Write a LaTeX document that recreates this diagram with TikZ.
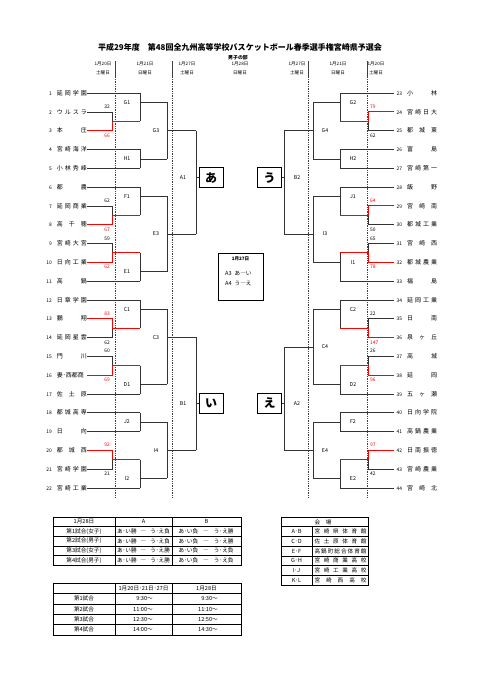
\documentclass[tikz,border=0pt]{standalone}
\usepackage{fontspec}
\setmainfont{Noto Sans CJK JP}
\newlength\pxu
\setlength\pxu{0.5mm}
% row position of the bracket (1 = first team)
\newcommand{\ry}[1]{93+(#1-1)*18.8}
% team entries: number and spread name
\newcommand{\lteam}[2]{\makebox[8\pxu][r]{\fontsize{7}{8}\selectfont #1}\hspace{5\pxu}\makebox[30\pxu][s]{#2}\hspace{2\pxu}}
\newcommand{\rteam}[2]{\hspace{1\pxu}\makebox[7\pxu][r]{\fontsize{7}{8}\selectfont #1}\hspace{5\pxu}\makebox[30\pxu][s]{#2}}
% bracket: x, top, bottom, out, next x, label x, name
\newcommand{\brk}[7]{%
  \draw[bline] (#1,{\ry{#2}}) -- (#1,{\ry{#3}});
  \draw[bline] (#1,{\ry{#4}}) -- (#5,{\ry{#4}});
  \node[mlabel] (m#7) at (#6,{\ry{#4}}) {#7};}
% first round pairs: loser, winner
\newcommand{\lpair}[2]{%
  \draw[bline] (lt#1.east) -- (112,{\ry{#1}}) -- (112,{\ry{(#1+#2)/2}});
  \draw[wline] (lt#2.east) -- (112,{\ry{#2}}) -- (112,{\ry{(#1+#2)/2}}) -- (140,{\ry{(#1+#2)/2}});}
\newcommand{\rpair}[2]{%
  \draw[bline] (rt#1.west) -- (368,{\ry{#1}}) -- (368,{\ry{(#1+#2)/2}});
  \draw[wline] (rt#2.west) -- (368,{\ry{#2}}) -- (368,{\ry{(#1+#2)/2}}) -- (340,{\ry{(#1+#2)/2}});}

\tikzset{
  bline/.style={draw=black!80, line width=0.7pt},
  wline/.style={draw=red, line width=1.1pt},
  team/.style={inner sep=0pt, font=\fontsize{8.5}{9}\selectfont},
  mlabel/.style={inner sep=0pt, font=\fontsize{7.5}{8}\selectfont},
  score/.style={inner sep=0pt, font=\fontsize{7}{8}\selectfont},
  hdr/.style={inner sep=0pt, font=\fontsize{6.5}{7}\selectfont},
  kbox/.style={draw, line width=1.2pt, fill=white, minimum width=24\pxu, minimum height=20\pxu,
    inner sep=0pt, font=\fontsize{17}{17}\bfseries\selectfont},
  tcell/.style={inner sep=0pt, font=\fontsize{8}{9}\selectfont},
  tthin/.style={draw=black, line width=0.5pt},
  tthick/.style={draw=black, line width=1.1pt}
}

\begin{document}
\begin{tikzpicture}[x=0.5mm, y=-0.5mm]
  \useasboundingbox (0,0) rectangle (481,680);
  \fill[white] (0,0) rectangle (481,680);

  % Titel
  \node[font=\fontsize{11.4}{12}\bfseries\selectfont] (title) at (240,47)
    {平成29年度　第48回全九州高等学校バスケットボール春季選手権宮崎県予選会};
  \node[font=\fontsize{7}{8}\bfseries\selectfont] (subtitle) at (238,57.5) {男子の部};

  % Kopfzeile mit Datum und Wochentag
  \foreach \x/\d/\w [count=\i] in {103/1月20日/土曜日, 145/1月21日/日曜日, 187/1月27日/土曜日,
      240/1月28日/日曜日, 297/1月27日/土曜日, 338/1月21日/日曜日, 376/1月20日/土曜日} {
    \node[hdr] (hd\i) at (\x,64) {\d};
    \node[hdr] (hw\i) at (\x,73) {\w};
  }
  \foreach \x in {115,172,308,367} {
    \draw[black!75, line width=0.5pt] (\x,61) -- (\x,77);
    \draw[black!75, line width=0.5pt, dotted] (\x,77) -- (\x,498);
  }

  % Mannschaften links
  \foreach \k/\tn in {1/延 岡 学 園, 2/ウ ル ス ラ, 3/本 庄, 4/宮 崎 海 洋, 5/小 林 秀 峰,
      6/都 農, 7/延 岡 商 業, 8/高 千 穂, 9/宮 崎 大 宮, 10/日 向 工 業, 11/高 鍋,
      12/日 章 学 園, 13/鵬 翔, 14/延 岡 星 雲, 15/門 川, 16/妻･西都商, 17/佐 土 原,
      18/都 城 高 専, 19/日 向, 20/都 城 西, 21/宮 崎 学 園, 22/宮 崎 工 業}
    \node[team, anchor=east] (lt\k) at (87,{\ry{\k}}) {\lteam{\k}{\tn}};

  % Mannschaften rechts
  \foreach \k/\tn [count=\i] in {23/小 林, 24/宮 崎 日 大, 25/都 城 東, 26/富 島, 27/宮 崎 第 一,
      28/飯 野, 29/宮 崎 南, 30/都 城 工 業, 31/宮 崎 西, 32/都 城 農 業, 33/福 島,
      34/延 岡 工 業, 35/日 南, 36/泉 ヶ 丘, 37/高 城, 38/延 岡, 39/五 ヶ 瀬,
      40/日 向 学 院, 41/高 鍋 農 業, 42/日 南 振 徳, 43/宮 崎 農 業, 44/宮 崎 北}
    \node[team, anchor=west] (rt\i) at (394,{\ry{\i}}) {\rteam{\k}{\tn}};

  % direkte Linien in die zweite Runde
  \foreach \i in {1,4,5,6,11,12,17,18,19,22} {
    \draw[bline] (lt\i.east) -- (140,{\ry{\i}});
    \draw[bline] (rt\i.west) -- (340,{\ry{\i}});
  }

  % Klammern links
  \brk{140}{1}{2.5}{1.5}{167}{127}{G1}
  \brk{140}{4}{5}{4.5}{167}{127}{H1}
  \brk{140}{6}{7.5}{6.5}{167}{127}{F1}
  \brk{140}{9.5}{11}{10.5}{167}{127}{E1}
  \brk{140}{12}{13.5}{12.5}{167}{127}{C1}
  \brk{140}{15.5}{17}{16.5}{167}{127}{D1}
  \brk{140}{18}{19}{18.5}{167}{127}{J2}
  \brk{140}{20.5}{22}{21.5}{167}{127}{I2}
  \brk{167}{1.5}{4.5}{3}{196}{156}{G3}
  \brk{167}{6.5}{10.5}{8.5}{196}{156}{E3}
  \brk{167}{12.5}{16.5}{14}{196}{156}{C3}
  \brk{167}{18.5}{21.5}{20}{196}{156}{I4}
  \brk{196}{3}{8.5}{5.5}{199}{183}{A1}
  \brk{196}{14}{20}{17.5}{199}{183}{B1}

  % Klammern rechts
  \brk{340}{1}{2.5}{1.5}{313}{353}{G2}
  \brk{340}{4}{5}{4.5}{313}{353}{H2}
  \brk{340}{6}{7.5}{6.5}{313}{353}{J1}
  \brk{340}{9.5}{11}{10}{313}{353}{I1}
  \brk{340}{12}{13.5}{12.5}{313}{353}{C2}
  \brk{340}{15.5}{17}{16.5}{313}{353}{D2}
  \brk{340}{18}{19}{18.5}{313}{353}{F2}
  \brk{340}{20.5}{22}{21.5}{313}{353}{E2}
  \brk{313}{1.5}{4.5}{3}{284}{325}{G4}
  \brk{313}{6.5}{10}{8.5}{284}{325}{I3}
  \brk{313}{12.5}{16.5}{14.5}{284}{325}{C4}
  \brk{313}{18.5}{21.5}{20}{284}{325}{E4}
  \brk{284}{3}{8.5}{5.5}{281}{297}{B2}
  \brk{284}{14.5}{20}{17.5}{281}{297}{A2}

  % erste Runde (Sieger rot)
  \lpair{2}{3} \lpair{7}{8} \lpair{9}{10} \lpair{14}{13} \lpair{15}{16} \lpair{21}{20}
  \rpair{3}{2} \rpair{8}{7} \rpair{9}{10} \rpair{13}{14} \rpair{15}{16} \rpair{21}{20}

  % Ergebnisse
  \foreach \r/\d/\v/\c in {2/-5/32/black, 3/5/66/red, 7/-5/62/black, 8/5/67/red,
      9/-5/59/black, 10/5/62/red, 13/-5/83/red, 14/5/62/black, 15/-5/60/black,
      16/5/69/red, 20/-5/92/red, 21/5/21/black}
    \node[score, text=\c, anchor=east] (ls\r) at (110,{\ry{\r}+\d}) {\v};
  \foreach \r/\d/\v/\c in {2/-5/79/red, 3/5/62/black, 7/-5/64/red, 8/5/50/black,
      9/-5/65/black, 10/5/78/red, 13/-5/22/black, 14/5/147/red, 15/-5/26/black,
      16/5/96/red, 20/-5/97/red, 21/5/42/black}
    \node[score, text=\c, anchor=west] (rs\r) at (370,{\ry{\r}+\d}) {\v};

  % Blöcke
  \node[kbox] (ka) at (211,{\ry{5.5}}) {あ};
  \node[kbox] (ki) at (211,{\ry{17.5}}) {い};
  \node[kbox] (ku) at (269.5,{\ry{5.5}}) {う};
  \node[kbox] (ke) at (269.5,{\ry{17.5}}) {え};

  % Halbfinale am 27.
  \node[draw, line width=0.7pt, minimum width=45\pxu, minimum height=47\pxu, inner sep=0pt] (day27) at (240.5,276.5) {};
  \node[hdr, font=\fontsize{6.5}{7}\bfseries\selectfont] (day27t) at (240.5,258.5) {1月27日};
  \node[tcell, anchor=west] (semi1) at (225,273) {A3\hspace{3\pxu}あ―い};
  \node[tcell, anchor=west] (semi2) at (225,283) {A4\hspace{3\pxu}う―え};

  % Tabelle 28. Januar
  \foreach \r in {2,...,4} \draw[tthin] (53,{517+9.6*\r}) -- (241,{517+9.6*\r});
  \draw[tthin] (172,517) -- (172,565);
  \draw[tthick] (53,526.6) -- (241,526.6);
  \draw[tthick] (115,517) -- (115,565);
  \draw[tthick] (53,517) rectangle (241,565);
  \node[tcell] (ta0) at (84,521.8) {1月28日};
  \node[tcell] (tb0) at (143.5,521.8) {A};
  \node[tcell] (tc0) at (206.5,521.8) {B};
  \foreach \lbl/\ca/\cb [count=\r] in {第1試合(女子)/あ･い勝 ― う･え負/あ･い負 ― う･え勝,
      第2試合(男子)/あ･い勝 ― う･え負/あ･い負 ― う･え勝,
      第3試合(女子)/あ･い勝 ― う･え勝/あ･い負 ― う･え負,
      第4試合(男子)/あ･い勝 ― う･え勝/あ･い負 ― う･え負} {
    \node[tcell] (ta\r) at (84,{521.8+9.6*\r}) {\lbl};
    \node[tcell] (tb\r) at (143.5,{521.8+9.6*\r}) {\makebox[53\pxu][s]{\ca}};
    \node[tcell] (tc\r) at (206,{521.8+9.6*\r}) {\makebox[55\pxu][s]{\cb}};
  }

  % Tabelle Spielorte
  \foreach \r in {2,...,6} \draw[tthin] (281,{517+9.71*\r}) -- (368,{517+9.71*\r});
  \draw[tthick] (281,526.7) -- (368,526.7);
  \draw[tthick] (312,526.7) -- (312,585);
  \draw[tthick] (281,517) rectangle (368,585);
  \node[tcell] (va0) at (323,521.9) {\makebox[17\pxu][s]{会 場}};
  \foreach \lbl/\hall [count=\r] in {A･B/宮 崎 県 体 育 館, C･D/佐 土 原 体 育 館,
      E･F/高 鍋 町 総 合 体 育 館, G･H/宮 崎 商 業 高 校, I･J/宮 崎 工 業 高 校,
      K･L/宮 崎 西 高 校} {
    \node[tcell] (va\r) at (296.5,{521.9+9.71*\r}) {\lbl};
    \node[tcell] (vb\r) at (340.5,{521.9+9.71*\r}) {\makebox[52\pxu][s]{\hall}};
  }

  % Tabelle Anwurfzeiten
  \foreach \r in {2,...,4} \draw[tthin] (53,{583+10.4*\r}) -- (241,{583+10.4*\r});
  \draw[tthin] (53,593.4) -- (241,593.4);
  \draw[tthin] (172,583) -- (172,635);
  \draw[tthick] (115,583) -- (115,635);
  \draw[tthick] (53,583) rectangle (241,635);
  \node[tcell] (zb0) at (143.5,588.2) {1月20日･21日･27日};
  \node[tcell] (zc0) at (206.5,588.2) {1月28日};
  \foreach \lbl/\ta/\tb [count=\r] in {第1試合/9:30～/9:30～, 第2試合/11:00～/11:10～,
      第3試合/12:30～/12:50～, 第4試合/14:00～/14:30～} {
    \node[tcell] (za\r) at (84,{588.2+10.4*\r}) {\lbl};
    \node[tcell, anchor=east] (zb\r) at (153,{588.2+10.4*\r}) {\ta};
    \node[tcell, anchor=east] (zc\r) at (218,{588.2+10.4*\r}) {\tb};
  }

\end{tikzpicture}
\end{document}
